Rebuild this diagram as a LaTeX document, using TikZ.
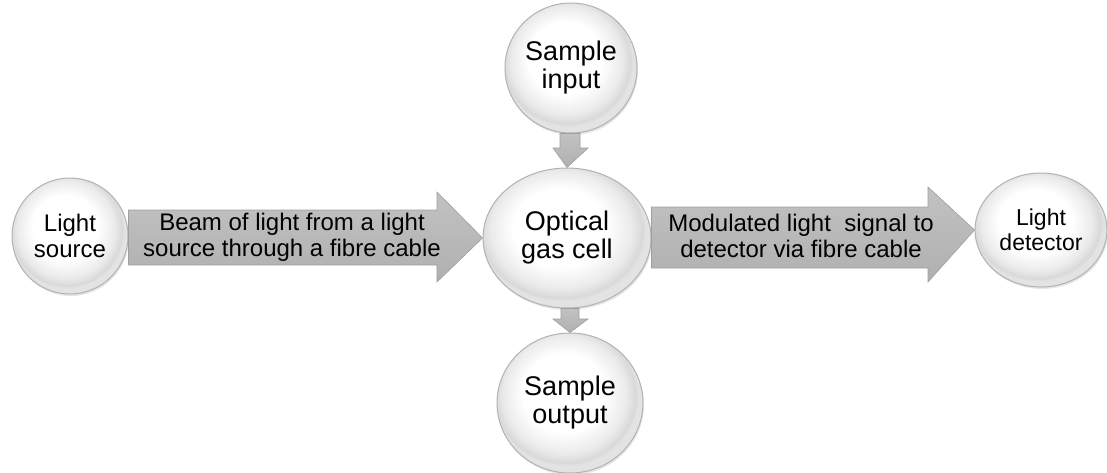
\documentclass[tikz,border=0pt]{standalone}
\usepackage{fontspec}
\setmainfont{Liberation Sans}
\usetikzlibrary{shapes.geometric,shadows}
\pgfdeclareradialshading{ballshade}{\pgfpoint{-3bp}{5bp}}{%
  color(0bp)=(white); color(14bp)=(white); color(21bp)=(gray!16);
  color(24bp)=(gray!30); color(25bp)=(gray!22); color(50bp)=(gray!22)}
\begin{document}
\begin{tikzpicture}[x=1pt,y=-1pt,
  ball/.style={ellipse, draw=gray!60, line width=1pt, inner sep=0pt,
    shading=ballshade,
    drop shadow={shadow xshift=1pt, shadow yshift=-2pt, opacity=0.2},
    font=\fontsize{27}{28}\selectfont, align=center},
  smallball/.style={ball, font=\fontsize{24}{26}\selectfont},
  arr/.style={draw=gray!75, line width=0.6pt, top color=gray!48, bottom color=gray!62},
  lbl/.style={font=\fontsize{24}{26}\selectfont, align=center}]
\useasboundingbox (0,0) rectangle (1107,472);
% nodes
\node[smallball, minimum width=116, minimum height=116] (src) at (70,236) {Light\\source};
\node[ball, minimum width=132, minimum height=130] (sin) at (571,68) {Sample\\input};
\node[ball, minimum width=168, minimum height=140] (cell) at (567,238) {Optical\\gas cell};
\node[ball, minimum width=146, minimum height=140] (sout) at (570,403) {Sample\\output};
\node[smallball, minimum width=132, minimum height=114, font=\fontsize{23}{25}\selectfont] (det) at (1041,230) {Light\\detector};
% big arrows
\draw[arr] (src.east |- 0,210) -- (437,210) -- (437,192) -- (cell.west) -- (437,282) -- (437,265) -- (src.east |- 0,265) -- cycle;
\node[lbl] (beam) at (292,237) {Beam of light from a light\\source through a fibre cable};
\draw[arr] (cell.east |- 0,207) -- (928,207) -- (928,187) -- (det.west) -- (928,282) -- (928,268) -- (cell.east |- 0,268) -- cycle;
\node[lbl] (mod) at (801,236) {Modulated light\ \ signal to\\detector via fibre cable};
% small arrows
\draw[arr] (560,0 |- sin.south) -- (580,0 |- sin.south) -- (580,148) -- (588,148) -- (cell.north) -- (553,148) -- (560,148) -- cycle;
\draw[arr] (561,0 |- cell.south) -- (579,0 |- cell.south) -- (579,319) -- (588,319) -- (sout.north) -- (553,319) -- (561,319) -- cycle;
\end{tikzpicture}
\end{document}
